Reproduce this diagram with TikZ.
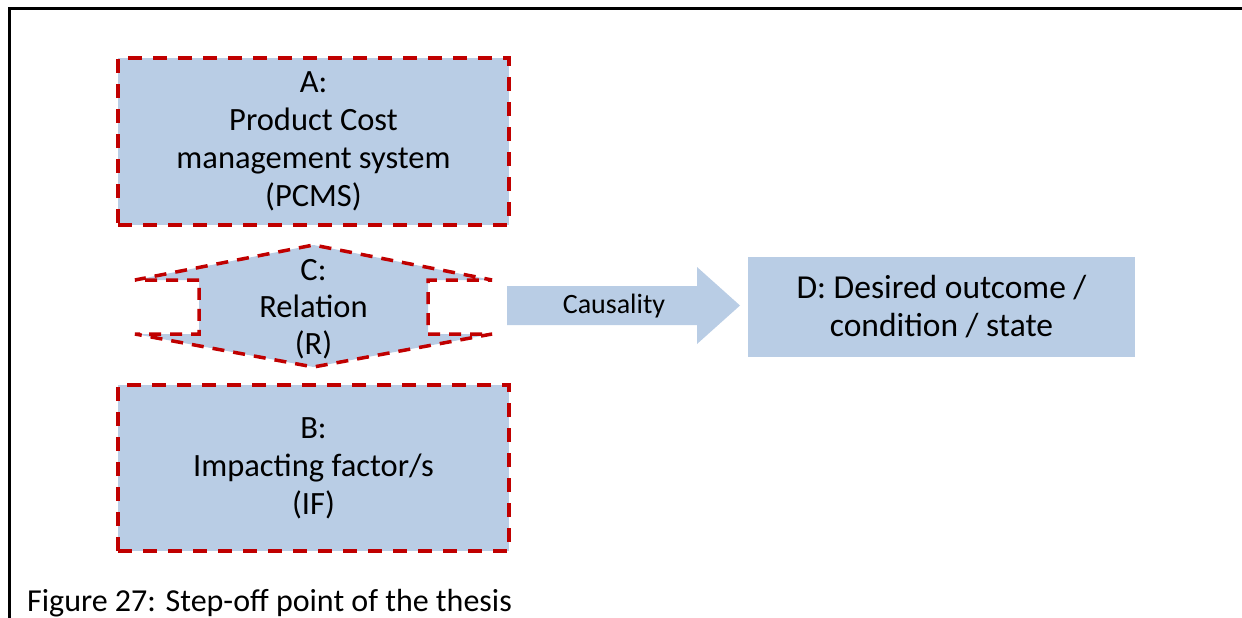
\documentclass[tikz,border=0pt]{standalone}
\usepackage{fontspec}
\setmainfont{Carlito}
\definecolor{boxfill}{HTML}{B9CDE5}
\definecolor{dashred}{HTML}{C00000}
\begin{document}
\begin{tikzpicture}[x=1pt,y=-1pt,
  every node/.style={align=center, text=black, font=\fontsize{32.5}{38}\selectfont},
  dashedbox/.style={fill=boxfill, draw=dashred, line width=4pt,
    dash pattern=on 14pt off 11pt, inner sep=0pt},
  relshape/.style={fill=boxfill, draw=dashred, line width=3.5pt,
    dash pattern=on 12pt off 9pt, line join=miter},
  plainbox/.style={fill=boxfill, inner sep=0pt}]
\useasboundingbox (0,0) rectangle (1242,618);

% frame
\draw[line width=3pt] (1242,8.5) -- (9.5,8.5) -- (9.5,618);

% A and B
\node[dashedbox, minimum width=391pt, minimum height=167pt] (A) at (313.5,141.5)
  {A:\\Product Cost\\management system\\(PCMS)};
\node[dashedbox, minimum width=391pt, minimum height=166pt] (B) at (313.5,468)
  {B:\\Impacting factor/s\\(IF)};

% C: up-down arrow relation
\draw[relshape] (199,280) -- (135,280) -- (313.5,245) -- (492,280) -- (428,280)
  -- (428,334) -- (492,334) -- (313.5,367) -- (135,334) -- (199,334) -- cycle;
\node[font=\fontsize{32.5}{37}\selectfont] (C) at (313.5,309) {C:\\Relation\\(R)};

% causality arrow
\fill[boxfill] (507,286) -- (697,286) -- (697,267) -- (740,305.5) -- (697,344)
  -- (697,325) -- (507,325) -- cycle;
\node[font=\fontsize{28}{32}\selectfont] (caus) at (614,306) {Causality};

% D
\node[plainbox, minimum width=387pt, minimum height=100pt,
  font=\fontsize{33.5}{38}\selectfont] (D) at (941.5,307)
  {D: Desired outcome /\\condition / state};

% caption
\node[anchor=base west, inner sep=0pt, font=\fontsize{32}{38}\selectfont] (cap) at (27,611)
  {Figure 27: Step-off point of the thesis};
\end{tikzpicture}
\end{document}
